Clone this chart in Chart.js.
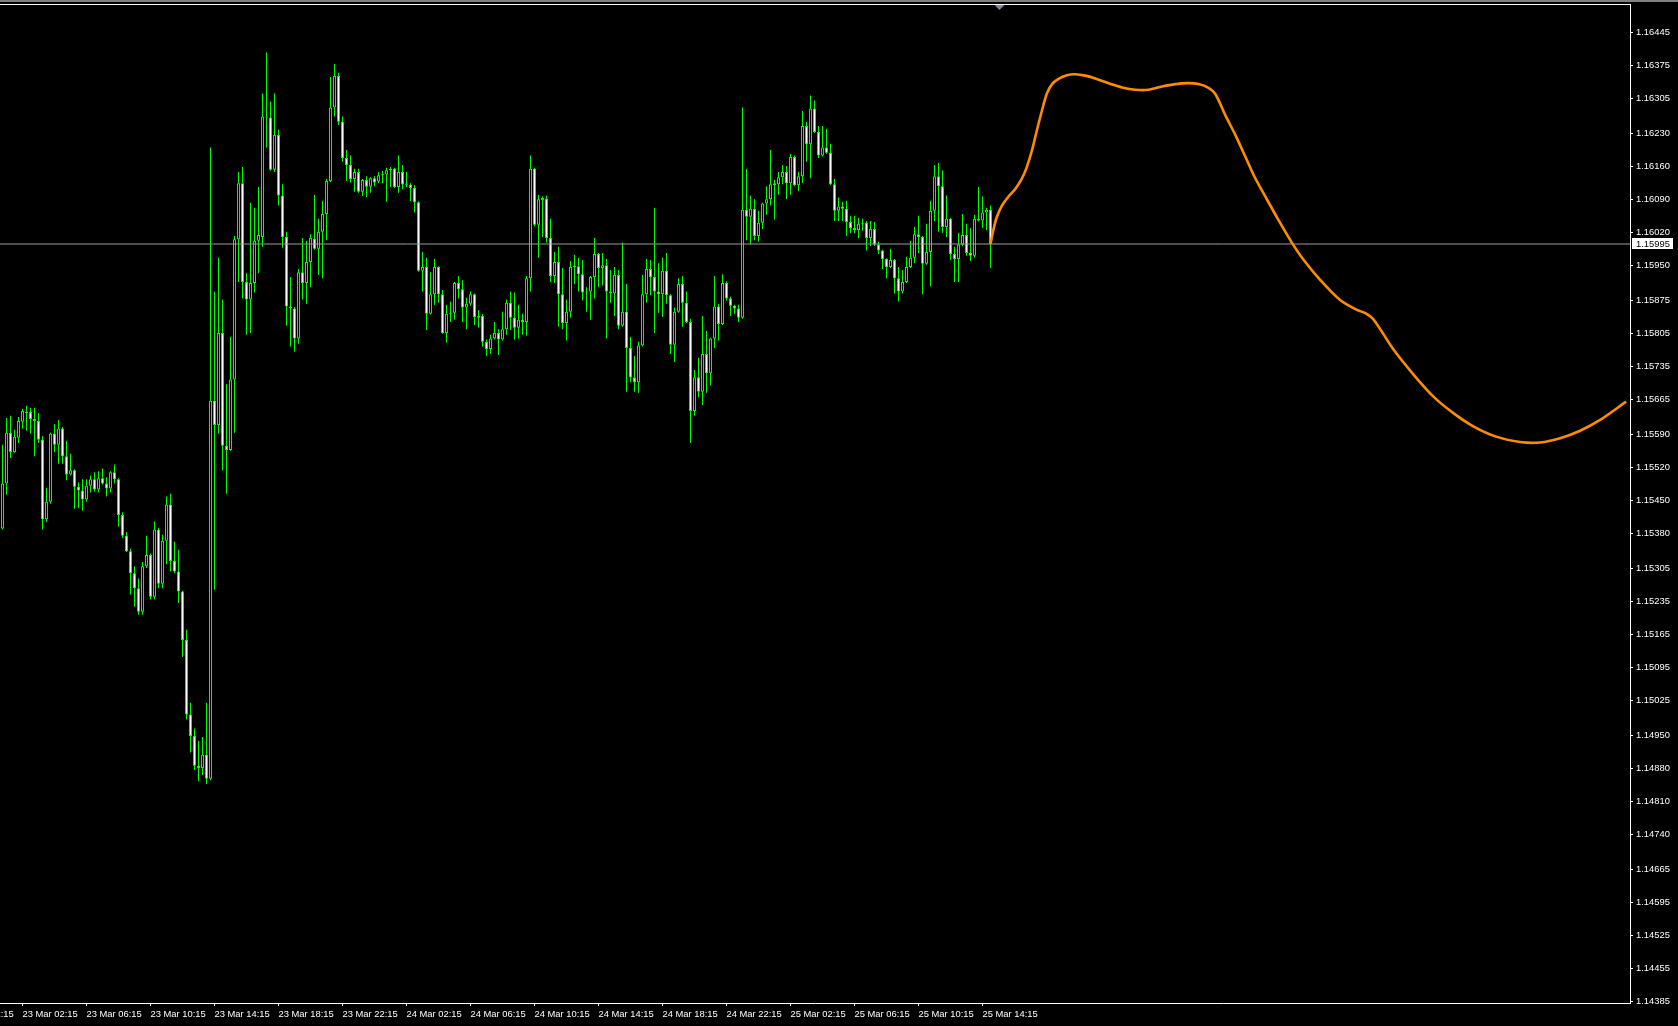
<!DOCTYPE html>
<html><head><meta charset="utf-8">
<script src="https://cdn.jsdelivr.net/npm/chart.js@4.4.1/dist/chart.umd.min.js"></script>
<style>html,body{margin:0;padding:0;background:#000;overflow:hidden}canvas{display:block}</style>
</head><body>
<canvas id="c" width="1678" height="1026"></canvas>
<script>
// ---- EURUSD M15 candles ----
const opens = [
1.15390,1.15486,1.15594,1.15553,1.15583,1.15617,1.15636,1.15638,1.15623,1.15619,1.15579,1.15410,1.15447,1.15592,1.15568,1.15603,
1.15544,1.15505,1.15514,1.15479,1.15471,1.15452,1.15481,1.15495,1.15473,1.15497,1.15486,1.15475,1.15510,1.15495,1.15419,1.15375,
1.15342,1.15295,1.15263,1.15213,1.15310,1.15334,1.15245,1.15388,1.15273,1.15364,1.15441,1.15321,1.15299,1.15256,1.15153,1.14995,
1.14949,1.14886,1.14881,1.14909,1.14858,1.15662,1.15610,1.15806,1.15566,1.15557,1.15707,1.16005,1.16124,1.15914,1.15877,1.15912,
1.16002,1.16010,1.16266,1.16264,1.16153,1.16227,1.16098,1.16010,1.15862,1.15858,1.15794,1.15935,1.15912,1.15957,1.16006,1.15985,
1.16021,1.16059,1.16129,1.16285,1.16352,1.16255,1.16178,1.16163,1.16133,1.16148,1.16106,1.16131,1.16117,1.16135,1.16128,1.16141,
1.16143,1.16152,1.16155,1.16116,1.16148,1.16122,1.16121,1.16114,1.16084,1.15938,1.15946,1.15847,1.15888,1.15946,1.15888,1.15806,
1.15847,1.15849,1.15912,1.15899,1.15860,1.15868,1.15888,1.15838,1.15842,1.15787,1.15772,1.15794,1.15806,1.15792,1.15814,1.15870,
1.15838,1.15817,1.15834,1.15829,1.15922,1.16155,1.16036,1.16088,1.16091,1.16008,1.15927,1.15957,1.15888,1.15827,1.15851,1.15946,
1.15948,1.15931,1.15892,1.15894,1.15925,1.15974,1.15944,1.15950,1.15894,1.15890,1.15929,1.15821,1.15851,1.15774,1.15711,1.15701,
1.15779,1.15888,1.15942,1.15925,1.15894,1.15888,1.15938,1.15886,1.15781,1.15851,1.15910,1.15870,1.15829,1.15640,1.15712,1.15681,
1.15761,1.15720,1.15794,1.15862,1.15825,1.15912,1.15879,1.15864,1.15858,1.15838,1.16068,1.16053,1.16070,1.16012,1.16040,1.16081,
1.16090,1.16120,1.16122,1.16137,1.16148,1.16124,1.16180,1.16120,1.16139,1.16246,1.16207,1.16283,1.16233,1.16183,1.16200,1.16189,
1.16122,1.16066,1.16075,1.16070,1.16042,1.16029,1.16025,1.16038,1.16040,1.16008,1.16027,1.15994,1.15981,1.15963,1.15946,1.15961,
1.15922,1.15894,1.15914,1.15946,1.15966,1.16016,1.16010,1.15953,1.15978,1.16066,1.16139,1.16118,1.16031,1.16049,1.15974,1.15963,
1.15994,1.16014,1.15976,1.15970,1.16049,1.16045,1.16062,1.16068];
const highs = [
1.15568,1.15625,1.15630,1.15600,1.15627,1.15645,1.15651,1.15647,1.15647,1.15636,1.15587,1.15477,1.15594,1.15612,1.15621,1.15606,
1.15577,1.15549,1.15516,1.15488,1.15495,1.15495,1.15503,1.15510,1.15512,1.15518,1.15499,1.15512,1.15526,1.15497,1.15425,1.15383,
1.15347,1.15310,1.15284,1.15319,1.15375,1.15337,1.15405,1.15392,1.15377,1.15458,1.15464,1.15362,1.15345,1.15258,1.15175,1.15020,
1.14965,1.14939,1.14947,1.15020,1.16200,1.15894,1.15966,1.15877,1.15697,1.15798,1.16012,1.16148,1.16159,1.15933,1.16083,1.16072,
1.16116,1.16315,1.16402,1.16298,1.16315,1.16238,1.16122,1.16021,1.15925,1.15861,1.15942,1.16008,1.16002,1.16016,1.16099,1.16049,
1.16087,1.16133,1.16350,1.16378,1.16359,1.16266,1.16195,1.16183,1.16155,1.16155,1.16133,1.16139,1.16137,1.16139,1.16148,1.16150,
1.16157,1.16159,1.16157,1.16183,1.16163,1.16148,1.16124,1.16120,1.16086,1.15978,1.15966,1.15935,1.15963,1.15948,1.15897,1.15866,
1.15873,1.15914,1.15927,1.15918,1.15881,1.15894,1.15890,1.15855,1.15846,1.15792,1.15802,1.15829,1.15814,1.15851,1.15877,1.15894,
1.15892,1.15866,1.15847,1.15927,1.16183,1.16157,1.16099,1.16096,1.16098,1.16049,1.15978,1.15989,1.15944,1.15877,1.15959,1.15972,
1.15966,1.15961,1.15903,1.15927,1.16008,1.15976,1.15976,1.15963,1.15940,1.15946,1.15940,1.15998,1.15910,1.15798,1.15757,1.15787,
1.15929,1.15963,1.15961,1.16072,1.15954,1.15966,1.15976,1.15888,1.15860,1.15922,1.15927,1.15894,1.15836,1.15727,1.15753,1.15842,
1.15810,1.15796,1.15927,1.15868,1.15931,1.15916,1.15883,1.15866,1.15866,1.16285,1.16155,1.16098,1.16090,1.16066,1.16083,1.16118,
1.16195,1.16131,1.16148,1.16163,1.16161,1.16187,1.16183,1.16148,1.16278,1.16255,1.16311,1.16300,1.16246,1.16246,1.16240,1.16208,
1.16133,1.16094,1.16085,1.16087,1.16055,1.16055,1.16051,1.16049,1.16044,1.16044,1.16042,1.16000,1.15983,1.15965,1.15985,1.15963,
1.15946,1.15940,1.15968,1.16002,1.16031,1.16055,1.16012,1.16038,1.16087,1.16163,1.16167,1.16152,1.16098,1.16051,1.15989,1.16019,
1.16059,1.16038,1.16029,1.16057,1.16116,1.16096,1.16072,1.16077];
const lows = [
1.15388,1.15462,1.15540,1.15551,1.15572,1.15603,1.15598,1.15592,1.15544,1.15572,1.15388,1.15404,1.15443,1.15553,1.15528,1.15528,
1.15493,1.15503,1.15432,1.15434,1.15428,1.15447,1.15467,1.15469,1.15467,1.15484,1.15458,1.15467,1.15486,1.15394,1.15370,1.15340,
1.15250,1.15224,1.15207,1.15207,1.15306,1.15239,1.15239,1.15263,1.15263,1.15314,1.15299,1.15295,1.15232,1.15117,1.14984,1.14914,
1.14877,1.14853,1.14866,1.14847,1.14855,1.15260,1.15592,1.15514,1.15464,1.15555,1.15594,1.15914,1.15879,1.15802,1.15806,1.15892,
1.15933,1.15989,1.16200,1.16151,1.16148,1.16077,1.15987,1.15821,1.15777,1.15766,1.15783,1.15877,1.15868,1.15903,1.15983,1.15929,
1.15922,1.16003,1.16127,1.16266,1.16248,1.16170,1.16129,1.16126,1.16106,1.16104,1.16097,1.16095,1.16104,1.16118,1.16124,1.16124,
1.16085,1.16116,1.16114,1.16104,1.16111,1.16116,1.16086,1.16062,1.15936,1.15894,1.15812,1.15845,1.15866,1.15870,1.15804,1.15785,
1.15829,1.15834,1.15879,1.15829,1.15814,1.15864,1.15823,1.15817,1.15777,1.15757,1.15761,1.15792,1.15759,1.15790,1.15802,1.15812,
1.15792,1.15794,1.15802,1.15800,1.15894,1.16033,1.15966,1.16010,1.15998,1.15914,1.15912,1.15819,1.15814,1.15790,1.15838,1.15910,
1.15894,1.15875,1.15851,1.15834,1.15879,1.15903,1.15907,1.15794,1.15870,1.15842,1.15814,1.15819,1.15681,1.15701,1.15681,1.15679,
1.15777,1.15870,1.15886,1.15806,1.15849,1.15840,1.15868,1.15761,1.15744,1.15849,1.15819,1.15827,1.15572,1.15630,1.15669,1.15653,
1.15679,1.15694,1.15774,1.15790,1.15823,1.15875,1.15842,1.15847,1.15829,1.15836,1.16003,1.15994,1.16003,1.16000,1.16027,1.16057,
1.16077,1.16047,1.16100,1.16122,1.16090,1.16100,1.16118,1.16107,1.16124,1.16170,1.16135,1.16231,1.16178,1.16181,1.16187,1.16120,
1.16044,1.16044,1.16044,1.16012,1.16018,1.16018,1.16008,1.16023,1.15981,1.15991,1.15991,1.15974,1.15942,1.15922,1.15944,1.15890,
1.15873,1.15890,1.15912,1.15944,1.15954,1.15976,1.15888,1.15951,1.15905,1.16044,1.16021,1.16019,1.16010,1.15961,1.15914,1.15914,
1.15991,1.15970,1.15959,1.15966,1.16043,1.16029,1.16025,1.15944];
const closes = [
1.15486,1.15594,1.15553,1.15585,1.15619,1.15640,1.15638,1.15623,1.15619,1.15579,1.15410,1.15447,1.15592,1.15568,1.15603,1.15544,
1.15505,1.15514,1.15479,1.15471,1.15452,1.15481,1.15495,1.15473,1.15497,1.15486,1.15475,1.15510,1.15495,1.15419,1.15375,1.15342,
1.15295,1.15263,1.15213,1.15310,1.15334,1.15245,1.15388,1.15273,1.15364,1.15441,1.15321,1.15299,1.15256,1.15153,1.14995,1.14949,
1.14886,1.14881,1.14909,1.14858,1.15662,1.15610,1.15806,1.15566,1.15557,1.15707,1.16005,1.16124,1.15914,1.15877,1.15912,1.16002,
1.16014,1.16266,1.16264,1.16153,1.16227,1.16098,1.16010,1.15862,1.15858,1.15794,1.15935,1.15912,1.15957,1.16008,1.15985,1.16021,
1.16059,1.16129,1.16285,1.16352,1.16255,1.16178,1.16163,1.16133,1.16148,1.16106,1.16131,1.16117,1.16135,1.16126,1.16141,1.16143,
1.16152,1.16155,1.16116,1.16148,1.16122,1.16121,1.16114,1.16084,1.15938,1.15946,1.15847,1.15888,1.15946,1.15888,1.15806,1.15847,
1.15849,1.15912,1.15899,1.15860,1.15868,1.15888,1.15840,1.15842,1.15787,1.15772,1.15794,1.15806,1.15792,1.15814,1.15870,1.15838,
1.15817,1.15834,1.15829,1.15922,1.16155,1.16036,1.16090,1.16093,1.16008,1.15927,1.15957,1.15888,1.15827,1.15851,1.15946,1.15948,
1.15931,1.15892,1.15894,1.15925,1.15974,1.15944,1.15950,1.15894,1.15890,1.15929,1.15821,1.15851,1.15774,1.15711,1.15701,1.15779,
1.15888,1.15942,1.15925,1.15894,1.15888,1.15938,1.15886,1.15781,1.15851,1.15910,1.15870,1.15829,1.15640,1.15712,1.15681,1.15761,
1.15720,1.15794,1.15862,1.15825,1.15912,1.15879,1.15864,1.15858,1.15838,1.16068,1.16053,1.16070,1.16012,1.16040,1.16081,1.16090,
1.16122,1.16124,1.16137,1.16148,1.16124,1.16180,1.16120,1.16139,1.16246,1.16207,1.16283,1.16233,1.16183,1.16200,1.16189,1.16122,
1.16066,1.16075,1.16070,1.16042,1.16029,1.16025,1.16038,1.16040,1.16008,1.16027,1.15994,1.15981,1.15963,1.15946,1.15961,1.15922,
1.15894,1.15914,1.15946,1.15966,1.16016,1.16010,1.15953,1.15978,1.16066,1.16139,1.16118,1.16031,1.16049,1.15974,1.15963,1.15994,
1.16014,1.15976,1.15970,1.16049,1.16045,1.16062,1.16068,1.15995];

// ---- forecast curve (bar position, price) ----
const forecastBars = [247,247.8,248.6,249.9,251.5,253.2,254.9,256.1,257.4,258.6,259.9,261.1,262.4,264,266.1,268.2,270.7,273.2,276.5,279.9,
283.2,286.5,289.9,293.2,296.5,299,301.5,303.2,305.7,308.2,310.7,313,315.9,319,322.4,325.3,329.4,334.4,338.6,340.7,
342.8,347.8,352.8,357.8,362.8,367.8,373.6,379.4,384.4,389.4,394.4,399.4,405.9];
const forecastValues = [1.15995,1.16028,1.16053,1.16077,1.16096,1.16112,1.16135,1.16159,1.16195,1.16237,1.16280,1.16315,1.16335,1.16346,1.16354,1.16356,1.16353,1.16347,1.16337,1.16328,
1.16323,1.16323,1.16330,1.16335,1.16337,1.16335,1.16327,1.16314,1.16269,1.16227,1.16181,1.16138,1.16093,1.16046,1.15997,1.15961,1.15919,1.15876,1.15855,1.15848,
1.15834,1.15770,1.15717,1.15670,1.15635,1.15607,1.15585,1.15574,1.15573,1.15582,1.15598,1.15621,1.15660];

const bidPrice = 1.15995;
const bidLabel = '1.15995';

// ---- axis labels ----
const yTickLabels = ['1.16445','1.16375','1.16305','1.16230','1.16160','1.16090','1.16020','1.15950','1.15875','1.15805',
'1.15735','1.15665','1.15590','1.15520','1.15450','1.15380','1.15305','1.15235','1.15165','1.15095','1.15025','1.14950',
'1.14880','1.14810','1.14740','1.14665','1.14595','1.14525','1.14455','1.14385'];
const xTickLabels = ['22 Mar 22:15','23 Mar 02:15','23 Mar 06:15','23 Mar 10:15','23 Mar 14:15','23 Mar 18:15','23 Mar 22:15',
'24 Mar 02:15','24 Mar 06:15','24 Mar 10:15','24 Mar 14:15','24 Mar 18:15','24 Mar 22:15','25 Mar 02:15','25 Mar 06:15',
'25 Mar 10:15','25 Mar 14:15'];
const FIRST_TICK_BAR = -11;
const BARS_PER_LABEL = 16;

// ---- view ----
const X_MIN = -0.625, X_MAX = 406.875;
const Y_MIN = 1.143814, Y_MAX = 1.165053;
const SHIFT_BAR = 249.1;
const FONT = {family: '"Liberation Sans", Arial, sans-serif', size: 9.4};

const wicks = lows.map((l, i) => ({x: i, y: [l, highs[i]]}));
const bodies = opens.map((o, i) => ({x: i, y: [o, closes[i]]}));
const forecast = forecastBars.map((b, i) => ({x: b, y: forecastValues[i]}));

const mt4Frame = {
  id: 'mt4Frame',
  beforeDraw(chart) {
    const c = chart.ctx;
    c.save(); c.fillStyle = '#000'; c.fillRect(0, 0, chart.width, chart.height); c.restore();
  },
  afterDraw(chart) {
    const c = chart.ctx, a = chart.chartArea;
    c.save();
    c.fillStyle = '#808080'; c.fillRect(0, 0, chart.width, 2);
    c.fillStyle = '#ffffff'; c.fillRect(0, a.top, a.right + 1, 1);
    const sx = Math.round(chart.scales.x.getPixelForValue(SHIFT_BAR)) + 0.5;
    c.fillStyle = '#7b8a9a';
    c.beginPath(); c.moveTo(sx - 5, a.top + 1); c.lineTo(sx + 5, a.top + 1); c.lineTo(sx, a.top + 6); c.closePath(); c.fill();
    const by = Math.round(chart.scales.y.getPixelForValue(bidPrice));
    c.fillStyle = '#ffffff'; c.fillRect(a.right + 2, by - 6, 41, 11);
    c.fillStyle = '#000000'; c.font = '9.4px "Liberation Sans", Arial, sans-serif';
    c.textBaseline = 'middle'; c.textAlign = 'left';
    c.fillText(bidLabel, a.right + 6, by);
    c.restore();
  }
};

const gridOpts = {display: true, drawOnChartArea: false, drawTicks: true, tickLength: 3, tickColor: '#ffffff', tickWidth: 1, offset: false, color: '#ffffff'};
const borderOpts = {display: true, color: '#ffffff', width: 1};

new Chart(document.getElementById('c'), {
  type: 'bar',
  data: {
    datasets: [
      {type: 'line', label: 'forecast', data: forecast, borderColor: '#FF8C00', borderWidth: 2.6, pointRadius: 0, tension: 0.3, order: 0},
      {type: 'line', label: 'bid', data: [{x: X_MIN, y: bidPrice}, {x: X_MAX, y: bidPrice}], borderColor: '#9c9ca0', borderWidth: 1, pointRadius: 0, order: 1},
      {type: 'bar', label: 'body', data: bodies,
        backgroundColor: ctx => (ctx.raw && ctx.raw.y[1] < ctx.raw.y[0]) ? '#ffffff' : '#000000',
        borderColor: '#00ff00', borderWidth: 1, borderSkipped: false, barThickness: 3, minBarLength: 1,
        grouped: false, inflateAmount: 0, order: 2},
      {type: 'bar', label: 'wick', data: wicks, backgroundColor: '#00ff00', borderWidth: 0,
        barThickness: 1, grouped: false, inflateAmount: 0, order: 3}
    ]
  },
  options: {
    responsive: false, devicePixelRatio: 1, animation: false, events: [],
    layout: {padding: {top: 4, left: 0, right: 0, bottom: 0}},
    plugins: {legend: {display: false}, tooltip: {enabled: false}},
    scales: {
      x: {
        type: 'linear', min: X_MIN, max: X_MAX, offset: false,
        grid: gridOpts, border: borderOpts,
        ticks: {color: '#ffffff', font: FONT, align: 'start', padding: 3, maxRotation: 0, minRotation: 0, autoSkip: false,
          callback: (v, i) => xTickLabels[i] ?? ''},
        afterBuildTicks: s => { s.ticks = xTickLabels.map((_, i) => ({value: FIRST_TICK_BAR + i * BARS_PER_LABEL})); },
        afterFit: s => { s.height = 23; s.paddingLeft = 0; s.paddingRight = 0; }
      },
      y: {
        type: 'linear', position: 'right', min: Y_MIN, max: Y_MAX,
        grid: gridOpts, border: borderOpts,
        ticks: {color: '#ffffff', font: FONT, padding: 3, autoSkip: false, callback: (v, i) => yTickLabels[i] ?? ''},
        afterBuildTicks: s => { s.ticks = yTickLabels.map(t => ({value: parseFloat(t)})); },
        afterFit: s => { s.width = 48; s.paddingTop = 0; s.paddingBottom = 0; }
      }
    }
  },
  plugins: [mt4Frame]
});
</script>
</body></html>
